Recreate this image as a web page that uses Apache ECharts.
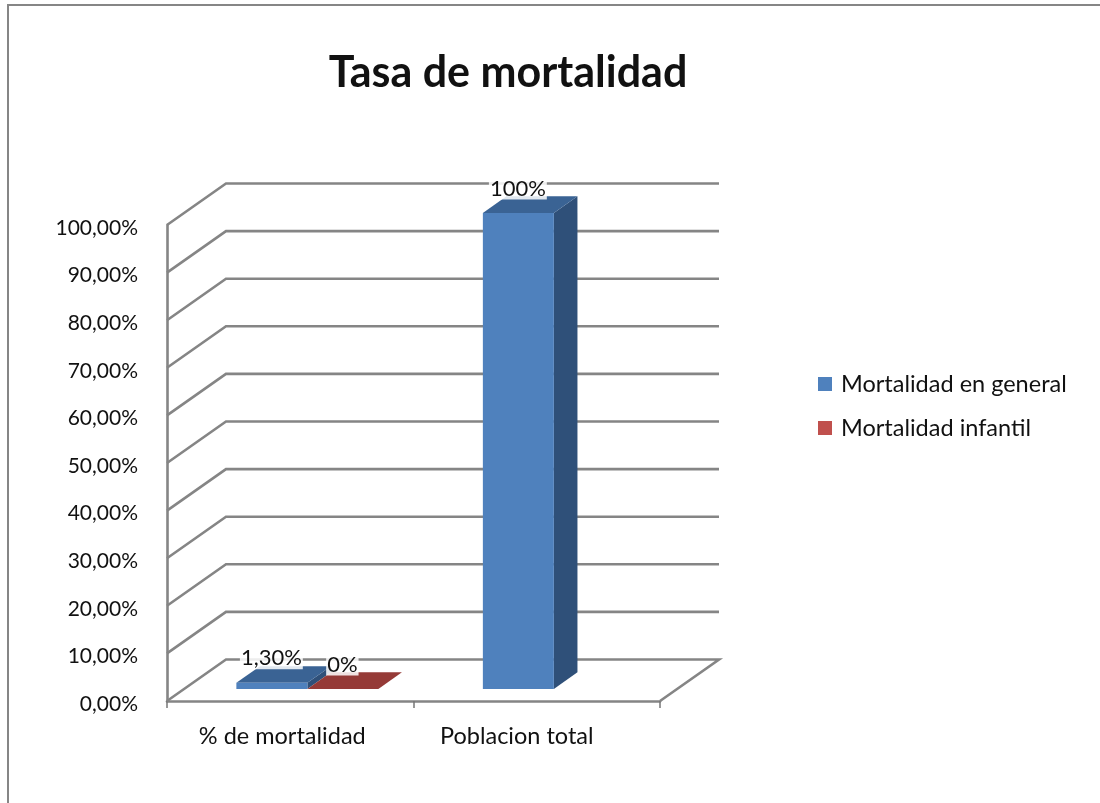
<!DOCTYPE html>
<html>
<head>
<meta charset="utf-8">
<style>html,body{margin:0;padding:0;background:#fff}#c{width:1100px;height:803px;filter:blur(0.45px)}</style>
<script src="https://cdn.jsdelivr.net/npm/echarts@6/dist/echarts.min.js"></script>
</head>
<body>
<div id="c"></div>
<script>
const categories = ['% de mortalidad', 'Poblacion total'];
const generalValues = [0.013, 1];
const generalLabels = ['1,30%', '100%'];
const infantilValues = [0];
const infantilLabels = ['0%'];
const gridTicks = [0, 0.1, 0.2, 0.3, 0.4, 0.5, 0.6, 0.7, 0.8, 0.9, 1];

const DX = 59, DY = 41.5;
const FONT = 'Lato, "Open Sans", sans-serif';
const GRID_COLOR = '#858585';

function wallItem(params, api) {
  const v = api.value(0);
  const rect = params.coordSys;
  const y = api.coord([0, v])[1];
  const x0 = rect.x, x1 = rect.x + rect.width;
  const pts = [[x0, y], [x0 + DX, y - DY], [x1 + DX, y - DY]];
  if (v === 0) pts.push([x1, y]);
  return {
    type: 'polyline',
    shape: { points: pts },
    style: { stroke: GRID_COLOR, lineWidth: 2.6, fill: null }
  };
}

function barRenderer(slot, front, top, side, labels) {
  return function (params, api) {
    const cat = api.value(0), val = api.value(1);
    const band = api.size([1, 0])[0];
    const w = band * 0.288;
    const c = api.coord([cat, val]);
    const b = api.coord([cat, 0]);
    const left = c[0] - w + slot * w;
    const fx = DX * 0.29, fy = DY * 0.29, bx = DX * 0.40, by = DY * 0.40;
    const x0 = left + fx, x1 = x0 + w;
    const yt = c[1] - fy, yb = b[1] - fy;
    const poly = (points, fill) => ({ type: 'polygon', shape: { points }, style: { fill, stroke: null } });
    return {
      type: 'group',
      children: [
        poly([[x1, yt], [x1 + bx, yt - by], [x1 + bx, yb - by], [x1, yb]], side),
        poly([[x0, yt], [x1, yt], [x1 + bx, yt - by], [x0 + bx, yt - by]], top),
        poly([[x0, yt], [x1, yt], [x1, yb], [x0, yb]], front),
        {
          type: 'text',
          z2: 50,
          style: {
            text: labels[params.dataIndex],
            x: (x0 + x1) / 2 - 0.5,
            y: yt - 24.5,
            align: 'center',
            verticalAlign: 'middle',
            font: '22px ' + FONT,
            fill: '#111',
            backgroundColor: 'rgba(255,255,255,0.85)',
            padding: [0, 1]
          }
        }
      ]
    };
  };
}

const chart = echarts.init(document.getElementById('c'), null, { renderer: 'canvas' });
chart.setOption({
  animation: false,
  backgroundColor: '#fff',
  title: {
    text: 'Tasa de mortalidad',
    left: 503,
    top: 47,
    textAlign: 'center',
    textStyle: { fontFamily: FONT, fontSize: 43, fontWeight: 'bold', color: '#111' }
  },
  legend: {
    data: ['Mortalidad en general', 'Mortalidad infantil'],
    orient: 'vertical',
    left: 813,
    top: 367,
    icon: 'rect',
    itemWidth: 14,
    itemHeight: 14,
    itemGap: 20,
    textStyle: { fontFamily: FONT, fontSize: 23.5, color: '#111', padding: [0, 0, 0, 4] }
  },
  grid: { left: 167, top: 225, width: 493, height: 476 },
  xAxis: {
    type: 'category',
    data: categories,
    axisLine: { lineStyle: { color: GRID_COLOR, width: 2.6 } },
    axisTick: { show: true, interval: 0, length: 7, lineStyle: { color: '#777', width: 1.5 } },
    axisLabel: {
      interval: 0,
      hideOverlap: false,
      margin: 23,
      fontFamily: FONT,
      fontSize: 23.5,
      color: '#111',
      formatter: (v, i) => '{c' + i + '|' + v + '}',
      rich: {
        c0: { fontFamily: FONT, fontSize: 23.5, color: '#111', padding: [0, 16, 0, 0] },
        c1: { fontFamily: FONT, fontSize: 23.5, color: '#111', padding: [0, 40, 0, 0] }
      }
    }
  },
  yAxis: {
    type: 'value',
    min: 0,
    max: 1,
    interval: 0.1,
    axisLine: { show: true, lineStyle: { color: GRID_COLOR, width: 2.6 } },
    axisTick: { show: false },
    splitLine: { show: false },
    axisLabel: {
      margin: 29,
      fontFamily: FONT,
      fontSize: 21,
      color: '#111',
      formatter: v => '{t|' + (v * 100).toFixed(2).replace('.', ',') + '%}',
      rich: { t: { fontFamily: FONT, fontSize: 21, color: '#111', padding: [6, 0, 0, 0] } }
    }
  },
  series: [
    {
      type: 'custom',
      name: 'walls',
      silent: true,
      z: 1,
      clip: false,
      coordinateSystem: 'cartesian2d',
      data: gridTicks.map(v => [v]),
      encode: { y: 0 },
      renderItem: wallItem
    },
    {
      type: 'custom',
      name: 'Mortalidad en general',
      z: 3,
      clip: false,
      itemStyle: { color: '#4f81bd' },
      data: generalValues.map((v, i) => [i, v]),
      encode: { x: 0, y: 1 },
      renderItem: barRenderer(0, '#4f81bd', '#3a6394', '#2f5079', generalLabels)
    },
    {
      type: 'custom',
      name: 'Mortalidad infantil',
      z: 4,
      clip: false,
      itemStyle: { color: '#c0504d' },
      data: infantilValues.map((v, i) => [i, v]),
      encode: { x: 0, y: 1 },
      renderItem: barRenderer(1, '#c0504d', '#953a37', '#7a2f2d', infantilLabels)
    }
  ],
  graphic: [{
    type: 'polyline',
    silent: true,
    shape: { points: [[8, 803], [8, 5], [1100, 5]] },
    style: { stroke: '#868686', lineWidth: 2, fill: null }
  }]
});
</script>
</body>
</html>
